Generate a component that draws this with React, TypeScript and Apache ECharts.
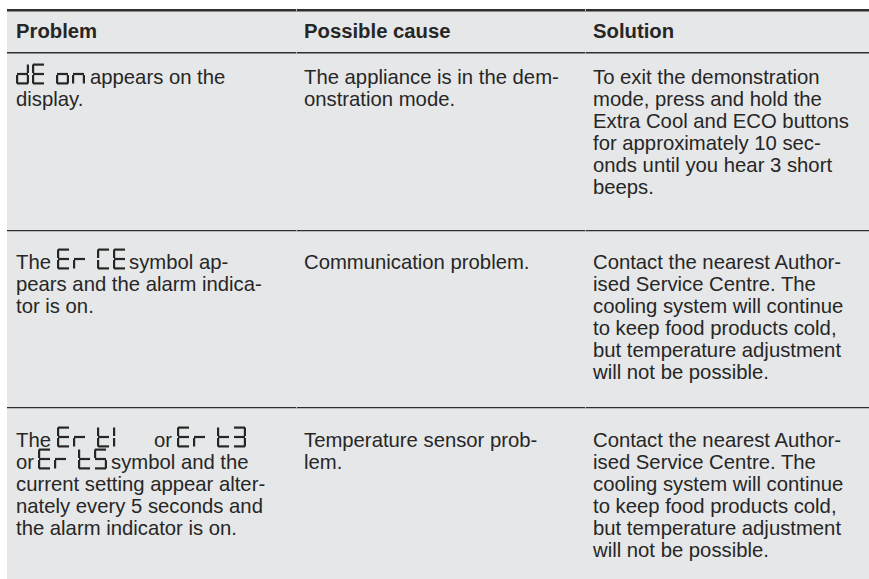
import { useEffect, useRef } from "react";
import * as echarts from "echarts";

// ---------- data ----------
const headers = ["Problem", "Possible cause", "Solution"];

type Piece = string | { code: string };
// problem column: each row is a list of lines, each line a list of pieces
const problemRows: Piece[][][] = [
  [[{ code: "dE on" }, "appears on the"], ["display."]],
  [["The", { code: "Er CE" }, "symbol ap-"], ["pears and the alarm indica-"], ["tor is on."]],
  [
    ["The", { code: "Er t1" }, "or", { code: "Er t3" }],
    ["or", { code: "Er t5" }, "symbol and the"],
    ["current setting appear alter-"],
    ["nately every 5 seconds and"],
    ["the alarm indicator is on."],
  ],
];
const causeRows: string[][] = [
  ["The appliance is in the dem-", "onstration mode."],
  ["Communication problem."],
  ["Temperature sensor prob-", "lem."],
];
const solutionRows: string[][] = [
  [
    "To exit the demonstration",
    "mode, press and hold the",
    "Extra Cool and ECO buttons",
    "for approximately 10 sec-",
    "onds until you hear 3 short",
    "beeps.",
  ],
  [
    "Contact the nearest Author-",
    "ised Service Centre. The",
    "cooling system will continue",
    "to keep food products cold,",
    "but temperature adjustment",
    "will not be possible.",
  ],
  [
    "Contact the nearest Author-",
    "ised Service Centre. The",
    "cooling system will continue",
    "to keep food products cold,",
    "but temperature adjustment",
    "will not be possible.",
  ],
];

// seven-segment definitions
const SEGMENTS: Record<string, string> = {
  d: "bcdeg",
  E: "adefg",
  o: "cdeg",
  n: "ceg",
  r: "eg",
  t: "defg",
  "1": "ef",
  "3": "abcdg",
  "5": "acdfg",
  C: "adef",
};

// ---------- layout ----------
const W = 869;
const H = 579;
const LEFT = 7;
const COL_X = [16, 304, 593];
const COL_BOUND = [296, 585];
const TOP_LINE = 9;
const HEADER_LINE = 52;
const ROW_LINES = [230, 407];
const ROW_FIRST = [77, 262, 440];
const HEADER_Y = 31;
const LH = 22;
const FS = 20.3;
const FONT = '"Liberation Sans", Arial, Helvetica, sans-serif';
const TEXT_COLOR = "#262626";
const LINE_COLOR = "#2e2e2e";
const BG = "#e6e7e8";
// explicit x positions of pieces for the lines containing display symbols
const PIECE_X: Record<string, number[]> = {
  "0-0": [16, 90],
  "1-0": [16, 57, 129],
  "2-0": [16, 57, 154, 177],
  "2-1": [16, 38, 111],
};
const CELL_W = 13;
const CELL_H = 21;
const PITCH = 16;
const SPACE_W = 8;
const SEG_T = 2.2;

function segRects(ch: string, x: number, yTop: number) {
  const s = SEGMENTS[ch] || "";
  const w = CELL_W, h = CELL_H, t = SEG_T;
  const half = h / 2;
  const defs: Record<string, [number, number, number, number]> = {
    a: [x + 1, yTop, w - 2, t],
    d: [x + 1, yTop + h - t, w - 2, t],
    g: [x + 1, yTop + half - t / 2, w - 2, t],
    f: [x, yTop + 1, t, half - 2],
    e: [x, yTop + half + 1, t, half - 2],
    b: [x + w - t, yTop + 1, t, half - 2],
    c: [x + w - t, yTop + half + 1, t, half - 2],
  };
  return s.split("").map((k) => {
    const [rx, ry, rw, rh] = defs[k];
    return {
      type: "rect",
      silent: true,
      shape: { x: rx, y: ry, width: rw, height: rh },
      style: { fill: TEXT_COLOR },
    };
  });
}

function codeElements(code: string, x0: number, yCenter: number) {
  const els: any[] = [];
  let x = x0;
  const baseline = yCenter + 7.5;
  const yTop = baseline - CELL_H;
  for (const ch of code) {
    if (ch === " ") {
      x += SPACE_W;
      continue;
    }
    els.push(...segRects(ch, x, yTop));
    x += PITCH;
  }
  return els;
}

function textEl(text: string, x: number, y: number, bold = false) {
  return {
    type: "text",
    silent: true,
    x,
    y,
    style: {
      text,
      fill: TEXT_COLOR,
      font: `${bold ? "bold " : ""}${FS}px ${FONT}`,
      fontSize: FS,
      fontFamily: FONT,
      fontWeight: bold ? "bold" : "normal",
      textAlign: "left",
      textVerticalAlign: "middle",
      align: "left",
      verticalAlign: "middle",
    },
  };
}

function hLine(y: number, h: number) {
  const els: any[] = [
    {
      type: "rect",
      silent: true,
      shape: { x: LEFT, y, width: W - LEFT, height: h },
      style: { fill: LINE_COLOR },
    },
  ];
  for (const bx of COL_BOUND) {
    els.push({
      type: "rect",
      silent: true,
      shape: { x: bx, y: y - 0.2, width: 1, height: h + 0.4 },
      style: { fill: "#b5b5b5" },
    });
  }
  return els;
}

function buildElements() {
  const els: any[] = [];
  els.push({
    type: "rect",
    silent: true,
    shape: { x: LEFT, y: TOP_LINE, width: W - LEFT, height: H - TOP_LINE },
    style: { fill: BG },
  });
  els.push(...hLine(TOP_LINE, 2.4));
  els.push(...hLine(HEADER_LINE, 1.5));
  ROW_LINES.forEach((y) => els.push(...hLine(y, 1.3)));

  headers.forEach((h, i) => els.push(textEl(h, COL_X[i], HEADER_Y, true)));

  problemRows.forEach((lines, r) => {
    lines.forEach((pieces, li) => {
      const y = ROW_FIRST[r] + li * LH;
      const xs = PIECE_X[`${r}-${li}`];
      pieces.forEach((p, pi) => {
        const x = xs ? xs[pi] : COL_X[0];
        if (typeof p === "string") els.push(textEl(p, x, y));
        else els.push(...codeElements(p.code, x, y));
      });
    });
  });
  causeRows.forEach((lines, r) =>
    lines.forEach((t, li) => els.push(textEl(t, COL_X[1], ROW_FIRST[r] + li * LH)))
  );
  solutionRows.forEach((lines, r) =>
    lines.forEach((t, li) => els.push(textEl(t, COL_X[2], ROW_FIRST[r] + li * LH)))
  );
  return els;
}

export default function App() {
  const ref = useRef<HTMLDivElement>(null);
  useEffect(() => {
    if (!ref.current) return;
    const chart = echarts.init(ref.current, undefined, { renderer: "svg" });
    chart.setOption({
      animation: false,
      backgroundColor: "#ffffff",
      graphic: { elements: buildElements() },
    });
    return () => chart.dispose();
  }, []);
  return (
    <div
      ref={ref}
      style={{ position: "absolute", left: 0, top: 0, width: W, height: H, background: "#fff" }}
    />
  );
}
